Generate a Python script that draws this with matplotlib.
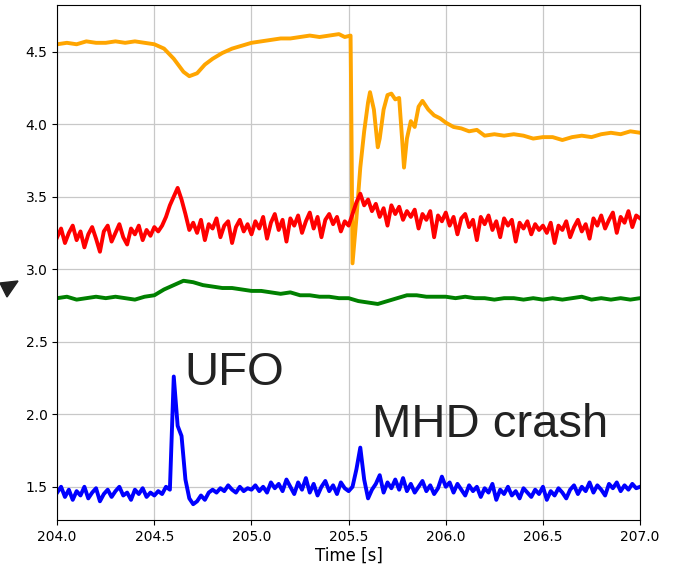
import numpy as np
import matplotlib
matplotlib.use("Agg")
import matplotlib.pyplot as plt
from matplotlib.patches import Polygon

# orange trace (irregular sampling around the crash)
t_orange = [204.00, 204.05, 204.10, 204.15, 204.20, 204.25, 204.30, 204.35, 204.40, 204.45,
            204.50, 204.55, 204.60, 204.65, 204.68, 204.72, 204.76, 204.80, 204.85, 204.90,
            204.95, 205.00, 205.05, 205.10, 205.15, 205.20, 205.25, 205.30, 205.35, 205.40,
            205.45, 205.48, 205.51, 205.515, 205.52, 205.54, 205.56, 205.58, 205.60, 205.61,
            205.63, 205.65, 205.66, 205.68, 205.70, 205.72, 205.74, 205.76, 205.775, 205.785,
            205.80, 205.82, 205.84, 205.86, 205.88, 205.91, 205.94, 205.97, 206.00, 206.04,
            206.08, 206.12, 206.16, 206.20, 206.25, 206.30, 206.35, 206.40, 206.45, 206.50,
            206.55, 206.60, 206.65, 206.70, 206.75, 206.80, 206.85, 206.90, 206.95, 207.00]
orange = [4.55, 4.56, 4.55, 4.57, 4.56, 4.56, 4.57, 4.56, 4.57, 4.56,
          4.55, 4.52, 4.45, 4.36, 4.33, 4.35, 4.41, 4.45, 4.49, 4.52,
          4.54, 4.56, 4.57, 4.58, 4.59, 4.59, 4.60, 4.61, 4.60, 4.61,
          4.62, 4.60, 4.61, 3.90, 3.04, 3.35, 3.70, 3.95, 4.15, 4.22,
          4.10, 3.84, 3.90, 4.10, 4.20, 4.21, 4.17, 4.18, 3.90, 3.70,
          3.90, 4.02, 3.98, 4.12, 4.16, 4.10, 4.06, 4.04, 4.01, 3.98,
          3.97, 3.95, 3.96, 3.92, 3.93, 3.92, 3.93, 3.92, 3.90, 3.91,
          3.91, 3.89, 3.91, 3.92, 3.91, 3.93, 3.94, 3.93, 3.95, 3.94]

# red trace, 0.02 s spacing
red = [3.22, 3.28, 3.18, 3.25, 3.30, 3.20, 3.26, 3.15, 3.24, 3.29,
       3.21, 3.12, 3.26, 3.30, 3.19, 3.25, 3.31, 3.22, 3.17, 3.28,
       3.24, 3.30, 3.20, 3.27, 3.23, 3.29,
       3.26, 3.30, 3.36, 3.44, 3.50, 3.56, 3.48, 3.38, 3.27, 3.32,
       3.25, 3.34, 3.20, 3.31, 3.28, 3.35, 3.22, 3.30, 3.33, 3.18, 3.29, 3.34, 3.26, 3.31, 3.24,
       3.33, 3.28, 3.36, 3.21, 3.32, 3.38, 3.27, 3.34, 3.19, 3.35, 3.30, 3.37, 3.25, 3.33, 3.39,
       3.28, 3.36, 3.22, 3.34, 3.38, 3.31, 3.36, 3.26, 3.33, 3.30,
       3.38, 3.46, 3.52, 3.44, 3.48, 3.40, 3.45, 3.36, 3.42, 3.30, 3.44, 3.38, 3.43, 3.34, 3.40,
       3.36, 3.41, 3.28, 3.38, 3.34, 3.40, 3.22, 3.37, 3.33, 3.39, 3.30, 3.36, 3.24, 3.35, 3.38,
       3.29, 3.34, 3.20, 3.36, 3.31, 3.37, 3.27, 3.33, 3.22, 3.35, 3.30, 3.34, 3.19, 3.32, 3.28,
       3.33, 3.24, 3.31, 3.27, 3.30,
       3.25, 3.32, 3.18, 3.30, 3.27, 3.33, 3.22, 3.29, 3.34, 3.26, 3.31, 3.21, 3.35, 3.30, 3.37,
       3.28, 3.34, 3.39, 3.25, 3.36, 3.32, 3.40, 3.29, 3.37, 3.35]

# green trace, 0.05 s spacing
green = [2.80, 2.81, 2.79, 2.80, 2.81, 2.80, 2.81, 2.80, 2.79, 2.81, 2.82,
         2.86, 2.89, 2.92, 2.91, 2.89, 2.88, 2.87, 2.87, 2.86, 2.85,
         2.85, 2.84, 2.83, 2.84, 2.82, 2.82, 2.81, 2.81, 2.80, 2.80,
         2.78, 2.77, 2.76, 2.78, 2.80, 2.82, 2.82, 2.81, 2.81, 2.81,
         2.80, 2.81, 2.80, 2.80, 2.79, 2.80, 2.80, 2.79, 2.80, 2.79,
         2.80, 2.79, 2.80, 2.81, 2.79, 2.80, 2.79, 2.80, 2.79, 2.80]

# blue trace, 0.02 s spacing
blue = [1.46, 1.50, 1.43, 1.48, 1.41, 1.47, 1.44, 1.50, 1.42, 1.46,
        1.49, 1.40, 1.45, 1.48, 1.43, 1.47, 1.50, 1.44, 1.46, 1.41,
        1.48, 1.45, 1.49, 1.43, 1.46, 1.44, 1.47, 1.45, 1.50,
        1.48, 2.26, 1.92, 1.85, 1.55, 1.42, 1.38, 1.40, 1.44, 1.41, 1.46, 1.48,
        1.46, 1.49, 1.47, 1.51, 1.48, 1.46, 1.50, 1.47, 1.49, 1.48,
        1.51, 1.47, 1.50, 1.46, 1.53, 1.49, 1.52, 1.47, 1.55, 1.50,
        1.45, 1.53, 1.48, 1.56, 1.46, 1.52, 1.44, 1.50, 1.54, 1.47,
        1.51, 1.45, 1.53, 1.49, 1.47,
        1.50, 1.62, 1.77, 1.55, 1.42, 1.48, 1.52, 1.58, 1.46, 1.53, 1.49, 1.55, 1.48, 1.56, 1.47,
        1.52, 1.46, 1.50, 1.54, 1.47, 1.51, 1.45, 1.49, 1.57, 1.50,
        1.53, 1.46, 1.52, 1.48, 1.44, 1.51, 1.47, 1.50, 1.43, 1.49,
        1.46, 1.52, 1.41, 1.48, 1.45, 1.50, 1.44, 1.47, 1.42, 1.49,
        1.46, 1.43, 1.48, 1.45, 1.50, 1.41, 1.47, 1.44, 1.49, 1.46,
        1.42, 1.48, 1.51, 1.45, 1.50, 1.47, 1.53, 1.46, 1.51, 1.48,
        1.44, 1.52, 1.49, 1.53, 1.47, 1.51, 1.48, 1.52, 1.49, 1.50]

x_ticks = [204.0, 204.5, 205.0, 205.5, 206.0, 206.5, 207.0]
y_ticks = [1.5, 2.0, 2.5, 3.0, 3.5, 4.0, 4.5]

W, H = 689, 566
fig = plt.figure(figsize=(W / 100, H / 100), dpi=100)
ax = fig.add_axes([0.083, 0.081, 0.846, 0.910])

lw = 2.8
ax.plot(t_orange, orange, color="#FFA500", linewidth=lw)
ax.plot(np.linspace(204.0, 207.0, len(red)), red, color="red", linewidth=lw)
ax.plot(np.linspace(204.0, 207.0, len(green)), green, color="green", linewidth=lw)
ax.plot(np.linspace(204.0, 207.0, len(blue)), blue, color="blue", linewidth=lw)

ax.set_xlim(204.0, 207.0)
ax.set_ylim(1.27, 4.82)
ax.set_xticks(x_ticks)
ax.set_xticklabels([f"{v:.1f}" for v in x_ticks])
ax.set_yticks(y_ticks)
ax.set_yticklabels([f"{v:.1f}" for v in y_ticks])
ax.tick_params(labelsize=10)
ax.grid(True, color="#c8c8c8", linewidth=0.9)
ax.set_axisbelow(True)
ax.set_xlabel("Time [s]", fontsize=12, labelpad=2)

ax.text(204.655, 2.20, "UFO", fontsize=34, family="Liberation Sans", color="#222222")
ax.text(205.62, 1.84, "MHD crash", fontsize=34, family="Liberation Sans", color="#222222")

# stray arrow head cut off at the left edge (pixel corners, top-left origin)
head_px = [(0, 283), (18, 281), (7, 297)]
head = Polygon([(x / W, 1 - y / H) for x, y in head_px], closed=True,
               transform=fig.transFigure, facecolor="#222222", edgecolor="#222222")
fig.patches.append(head)

fig.savefig("out.png", dpi=100)
